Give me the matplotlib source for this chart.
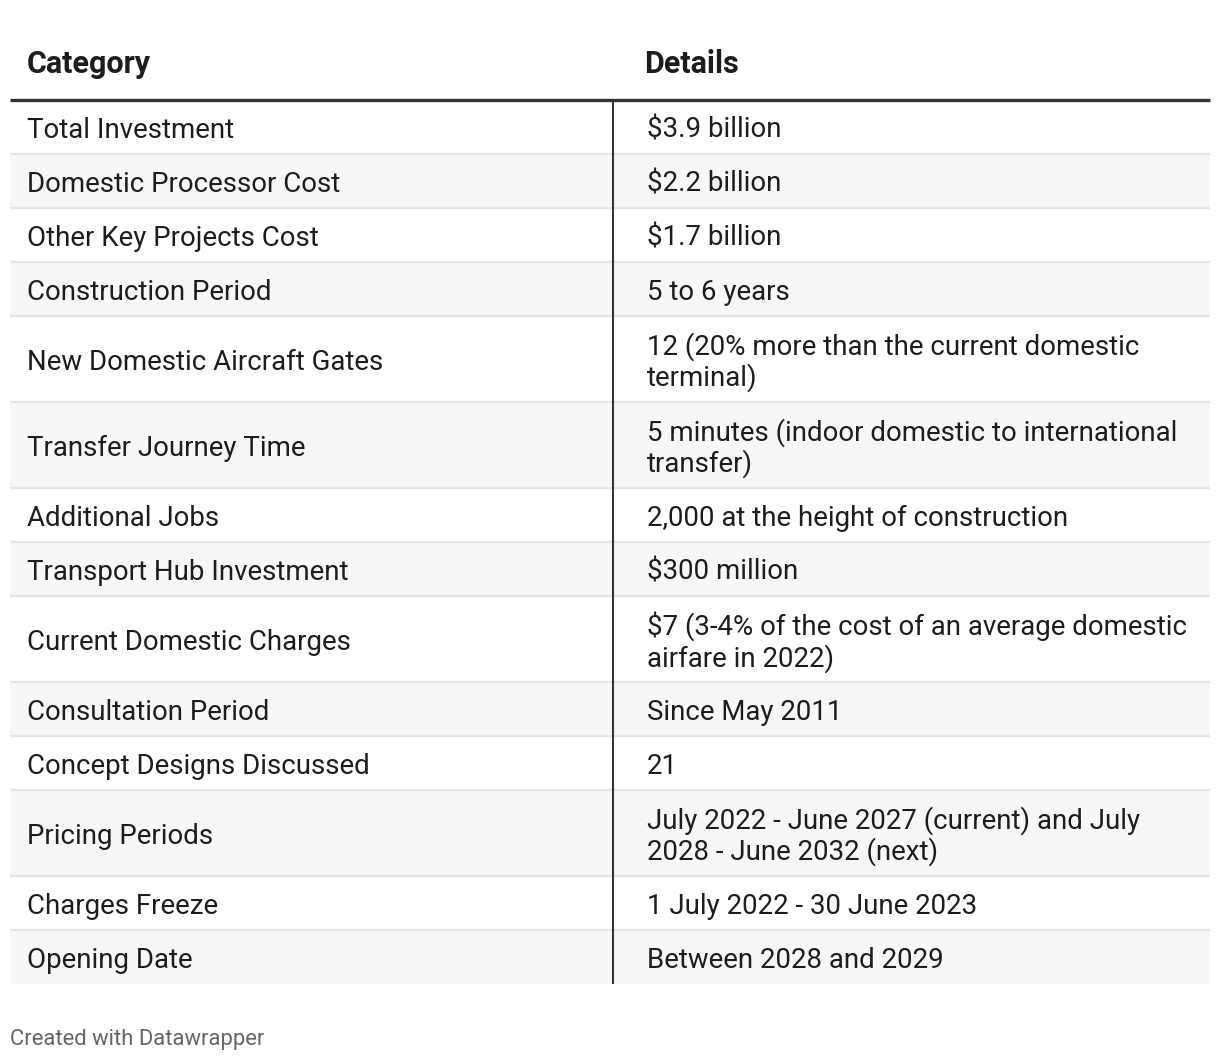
import matplotlib.pyplot as plt
from matplotlib.patches import Rectangle

plt.rcParams['font.family'] = ['Roboto', 'DejaVu Sans']

# Table content
header = ['Category', 'Details']
categories = [
    'Total Investment',
    'Domestic Processor Cost',
    'Other Key Projects Cost',
    'Construction Period',
    'New Domestic Aircraft Gates',
    'Transfer Journey Time',
    'Additional Jobs',
    'Transport Hub Investment',
    'Current Domestic Charges',
    'Consultation Period',
    'Concept Designs Discussed',
    'Pricing Periods',
    'Charges Freeze',
    'Opening Date',
]
details = [
    '$3.9 billion',
    '$2.2 billion',
    '$1.7 billion',
    '5 to 6 years',
    '12 (20% more than the current domestic\nterminal)',
    '5 minutes (indoor domestic to international\ntransfer)',
    '2,000 at the height of construction',
    '$300 million',
    '$7 (3-4% of the cost of an average domestic\nairfare in 2022)',
    'Since May 2011',
    '21',
    'July 2022 - June 2027 (current) and July\n2028 - June 2032 (next)',
    '1 July 2022 - 30 June 2023',
    'Between 2028 and 2029',
]
footer = 'Created with Datawrapper'

# Layout in pixel units
W, H = 1220, 1060
left, right = 10, 1210
col_split = 613
pad_x = 17
header_line_y = 100
single_h, line_step = 54, 32
text_size = 19.9
text_color = '#1d1d1d'

fig = plt.figure(figsize=(W / 100, H / 100), dpi=100)
ax = fig.add_axes([0, 0, 1, 1])
ax.set_xlim(0, W)
ax.set_ylim(H, 0)
ax.axis('off')

# Header
ax.text(left + pad_x, 64, header[0], fontsize=22, fontweight='bold',
        color=text_color, va='center', ha='left')
ax.text(col_split + 31, 64, header[1], fontsize=22, fontweight='bold',
        color=text_color, va='center', ha='left')

y = header_line_y
for i, (cat, det) in enumerate(zip(categories, details)):
    n_lines = det.count('\n') + 1
    h = single_h + (n_lines - 1) * line_step
    if i % 2 == 1:
        ax.add_patch(Rectangle((left, y), right - left, h, facecolor='#f7f7f7',
                               edgecolor='none', zorder=0))
    if i > 0:
        ax.plot([left, right], [y, y], color='#e6e6e6', lw=1.6, zorder=1,
                solid_capstyle='butt')
    yc = y + h / 2
    ax.text(left + pad_x, yc + 3, cat, fontsize=text_size, color=text_color,
            va='center', ha='left')
    ax.text(col_split + 34, yc + 3, det, fontsize=text_size, color=text_color,
            va='center', ha='left', linespacing=1.12)
    y += h

# Column divider and header rule
ax.plot([col_split, col_split], [header_line_y, y], color='#333333', lw=1.5,
        zorder=2, solid_capstyle='butt')
ax.plot([left, right], [header_line_y, header_line_y], color='#333333', lw=2.4,
        zorder=3, solid_capstyle='butt')

ax.text(left, 1039, footer, fontsize=15.8, color='#666666', va='center', ha='left')

fig.savefig('out.png', dpi=100, facecolor='white')
